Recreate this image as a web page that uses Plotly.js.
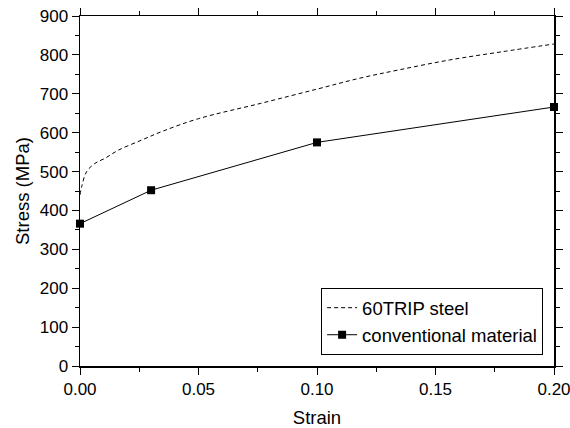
<!DOCTYPE html>
<html>
<head>
<meta charset="utf-8">
<script src="https://cdn.plot.ly/plotly-3.0.1.min.js"></script>
<style>html,body{margin:0;padding:0;background:#fff;}#chart{width:570px;height:428px;}</style>
</head>
<body>
<div id="chart"></div>
<script>
// 60TRIP steel curve
const tripStrain = [0, 0.0007, 0.0028, 0.0063, 0.0105, 0.0162, 0.026, 0.035, 0.05, 0.076, 0.1, 0.118, 0.135, 0.156, 0.178, 0.2];
const tripStress = [440, 461, 500, 521, 534, 555, 581, 604, 636, 675, 712, 740, 762, 787, 808, 828];
// conventional material
const convStrain = [0, 0.03, 0.1, 0.2];
const convStress = [366, 452, 575, 666];
const xTicks = [0, 0.05, 0.10, 0.15, 0.20];
const xTickText = ["0.00", "0.05", "0.10", "0.15", "0.20"];
const yTicks = [0, 100, 200, 300, 400, 500, 600, 700, 800, 900];

const traces = [
  {x: tripStrain, y: tripStress, name: '60TRIP steel', mode: 'lines', type: 'scatter',
   line: {color: '#000', width: 1, dash: '4px,3px', shape: 'spline'}},
  {x: convStrain, y: convStress, name: 'conventional material', mode: 'lines+markers', type: 'scatter',
   line: {color: '#000', width: 1}, marker: {symbol: 'square', size: 8, color: '#000'}, cliponaxis: false}
];
const fam = 'Liberation Sans, Arial, sans-serif';
const fnt = {family: fam, size: 17, color: '#000'};
const tfnt = {family: fam, size: 18.5, color: '#000'};
const layout = {
  width: 570, height: 428,
  margin: {l: 80, r: 16, t: 16, b: 62},
  paper_bgcolor: '#fff', plot_bgcolor: '#fff',
  font: fnt,
  showlegend: true,
  legend: {x: 0.977, y: 0.031, xanchor: 'right', yanchor: 'bottom', bgcolor: '#fff',
           bordercolor: '#000', borderwidth: 1, font: tfnt, tracegroupgap: 0},
  xaxis: {range: [0, 0.2], tickvals: xTicks, ticktext: xTickText, ticks: 'outside', ticklen: 7,
          tickwidth: 1, tickcolor: '#000', showline: true, linecolor: '#000', linewidth: 1.5,
          mirror: 'ticks', showgrid: false, zeroline: false, ticklabeloverflow: 'allow',
          minor: {dtick: 0.025, ticklen: 4, tickcolor: '#000', ticks: 'outside', showgrid: false},
          title: {text: 'Strain', font: tfnt, standoff: 13}, tickfont: fnt},
  yaxis: {range: [0, 900], tickvals: yTicks, ticks: 'outside', ticklen: 7,
          tickwidth: 1, tickcolor: '#000', showline: true, linecolor: '#000', linewidth: 1.5,
          mirror: 'ticks', showgrid: false, zeroline: false, ticklabeloverflow: 'allow',
          minor: {dtick: 50, ticklen: 4, tickcolor: '#000', ticks: 'outside', showgrid: false},
          title: {text: 'Stress (MPa)', font: tfnt, standoff: 5}, tickfont: fnt}
};
Plotly.newPlot('chart', traces, layout, {displayModeBar: false, staticPlot: true});
</script>
</body>
</html>
